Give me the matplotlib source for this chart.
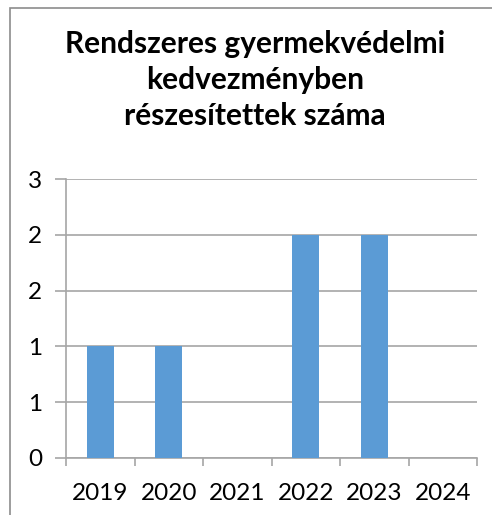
import matplotlib.pyplot as plt
from matplotlib.patches import Rectangle

years = ["2019", "2020", "2021", "2022", "2023", "2024"]
counts = [1, 1, 0, 2, 2, 0]
y_ticks = [0, 0.5, 1, 1.5, 2, 2.5]
y_labels = ["0", "1", "1", "2", "2", "3"]
title_lines = ["Rendszeres gyermekvédelmi", "kedvezményben", "részesítettek száma"]

plt.rcParams['font.family'] = ['Lato', 'DejaVu Sans']

W, H = 492, 515
fig = plt.figure(figsize=(W / 100, H / 100), dpi=100)

# chart frame (cut off at right and bottom like the screenshot)
fig.patches.append(Rectangle((10 / W, -0.1), 1.2, 1 - 8 / H + 0.1,
                             transform=fig.transFigure, fill=False,
                             edgecolor='#8c8c8c', linewidth=1.2))

ax = fig.add_axes([66 / W, 1 - 458 / H, (477 - 66) / W, (458 - 179) / H])
x = range(len(years))
ax.bar(x, counts, width=0.4, color='#5B9BD5', zorder=3)

ax.set_xlim(-0.5, len(years) - 0.5)
ax.set_ylim(0, 2.5)
ax.set_yticks(y_ticks)
ax.set_yticklabels(y_labels)
ax.set_xticks(list(x))
ax.set_xticklabels(years)
ax.set_xticks([i - 0.5 for i in range(len(years) + 1)], minor=True)

ax.grid(axis='y', color='#a6a6a6', linewidth=1.2, zorder=0)
for s in ['top', 'right']:
    ax.spines[s].set_visible(False)
for s in ['left', 'bottom']:
    ax.spines[s].set_color('#a6a6a6')
    ax.spines[s].set_linewidth(1.2)

ax.tick_params(axis='y', length=8, color='#a6a6a6', width=1.2, labelsize=17.5, pad=9)
ax.tick_params(axis='x', which='major', length=0, labelsize=17.5, pad=18)
ax.tick_params(axis='x', which='minor', length=6, color='#a6a6a6', width=1.2)

for i, line in enumerate(title_lines):
    fig.text(255 / W, 1 - (44 + 36 * i) / H, line, ha='center', va='center',
             fontsize=21.5, fontweight='bold')

fig.savefig('out.png', dpi=100)
